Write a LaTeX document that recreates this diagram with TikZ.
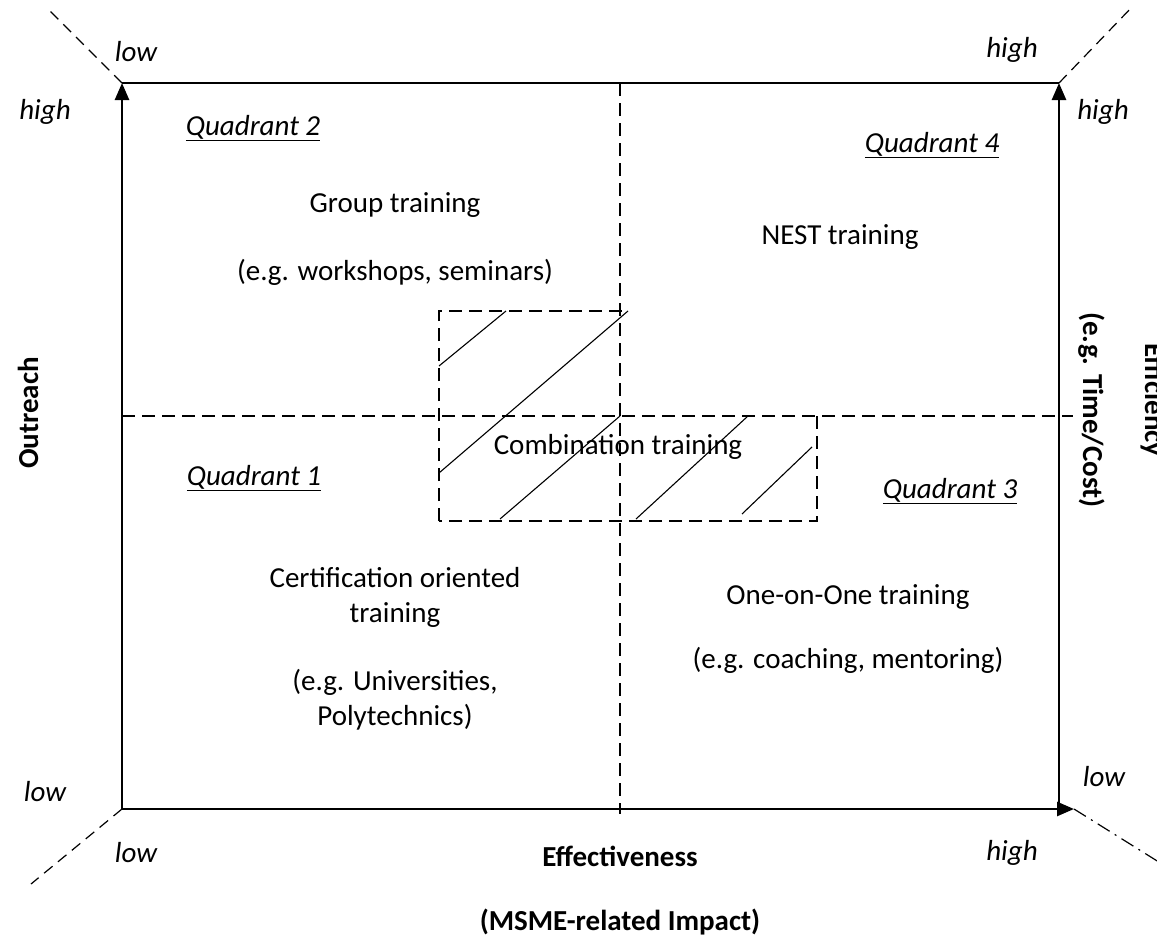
\documentclass[tikz,border=0pt]{standalone}
\usepackage{fontspec}
\setmainfont{Carlito}
\usetikzlibrary{arrows.meta}
\begin{document}
\begin{tikzpicture}[x=1pt,y=-1pt,
  txt/.style={font=\fontsize{29}{35}\selectfont, align=center, inner sep=0pt},
  corner/.style={font=\fontsize{29}{35}\selectfont\itshape, inner sep=0pt},
  quad/.style={font=\fontsize{29}{35}\selectfont\itshape, inner sep=0pt},
  axislabel/.style={font=\fontsize{29}{35}\selectfont\bfseries, inner sep=0pt},
  axis/.style={line width=2.6pt},
  frameline/.style={line width=1.3pt},
  guide/.style={line width=1.4pt, dash pattern=on 13pt off 7pt},
  diag/.style={line width=1.2pt, dash pattern=on 11pt off 7pt},
  diagdot/.style={line width=1.2pt, dash pattern=on 14pt off 6pt on 2pt off 6pt},
  hatch/.style={line width=1.1pt},
  tip/.style={-{Triangle[length=17pt,width=14pt]}}
]
\useasboundingbox (0,0) rectangle (1157,945);

% frame corners
\coordinate (O)  at (122,809);
\coordinate (TL) at (122,83);
\coordinate (TR) at (1059,83);
\coordinate (BR) at (1059,809);
\coordinate (XE) at (1074,809);

% centre guides
\coordinate (VT) at (620,83);
\coordinate (VB) at (620,814);
\coordinate (HL) at (122,416);
\coordinate (HR) at (1073,416);
\draw[guide] (VT) -- (VB);
\draw[guide] (HL) -- (HR);

% axes and top edge
\draw[frameline] (TL) -- (TR);
\draw[axis,tip] (O) -- (TL);
\draw[axis,tip] (BR) -- (TR);
\draw[axis,tip] (O) -- (XE);

% diagonal corner lines
\coordinate (dTL) at (46,7);
\coordinate (dTR) at (1132,7);
\coordinate (dBL) at (31,884);
\coordinate (dBR) at (1162,864);
\draw[diag] (TL) -- (dTL);
\draw[diag] (TR) -- (dTR);
\draw[diag] (O) -- (dBL);
\draw[diagdot] (XE) -- (dBR);

% combination area outline
\coordinate (c1) at (439,521);
\coordinate (c2) at (439,311);
\coordinate (c3) at (628,311);
\coordinate (c4) at (817,416);
\coordinate (c5) at (817,521);
\draw[guide] (c1) -- (c2) -- (c3);
\draw[guide] (c4) -- (c5) -- (c1);

% hatching
\coordinate (h1a) at (439,366); \coordinate (h1b) at (506,311);
\coordinate (h2a) at (439,473); \coordinate (h2b) at (628,311);
\coordinate (h3a) at (500,519); \coordinate (h3b) at (620,416);
\coordinate (h4a) at (636,519); \coordinate (h4b) at (748,416);
\coordinate (h5a) at (742,514); \coordinate (h5b) at (812,447);
\draw[hatch] (h1a) -- (h1b);
\draw[hatch] (h2a) -- (h2b);
\draw[hatch] (h3a) -- (h3b);
\draw[hatch] (h4a) -- (h4b);
\draw[hatch] (h5a) -- (h5b);

% low / high markers
\node[corner] (lowTL)  at (136,52)  {low};
\node[corner] (highT)  at (1012,50) {high};
\node[corner] (highL)  at (45,112)  {high};
\node[corner] (highR)  at (1103,112) {high};
\node[corner] (lowL)   at (45,792)  {low};
\node[corner] (lowR)   at (1104,777) {low};
\node[corner] (lowB)   at (136,853) {low};
\node[corner] (highB)  at (1012,853) {high};

% quadrant titles
\node[quad] (q2) at (253,128) {\underline{Quadrant 2}};
\node[quad] (q4) at (932,145) {\underline{Quadrant 4}};
\node[quad] (q1) at (254,478) {\underline{Quadrant 1}};
\node[quad] (q3) at (950,491) {\underline{Quadrant 3}};

% training types
\node[txt] (grp)   at (395,205) {Group training};
\node[txt] (grpeg) at (395,272) {(e.g. workshops, seminars)};
\node[txt] (nest)  at (840,237) {NEST training};
\node[txt] (comb)  at (618,447) {Combination training};
\node[txt] (cert)  at (395,597) {Certification oriented\\training};
\node[txt] (certeg) at (395,700) {(e.g. Universities,\\Polytechnics)};
\node[txt] (one)   at (848,597) {One-on-One training};
\node[txt] (oneeg) at (848,660) {(e.g. coaching, mentoring)};

% axis titles
\node[axislabel] (eff)  at (620,856) {Effectiveness};
\node[axislabel] (msme) at (620,922) {(MSME-related Impact)};
\node[axislabel, rotate=90] (out) at (28,413) {Outreach};
\node[axislabel, rotate=-90, anchor=base] (effc) at (1145,400) {Efficiency};
\node[axislabel, rotate=-90, anchor=base] (tc) at (1083,410) {(e.g. Time/Cost)};
\end{tikzpicture}
\end{document}
